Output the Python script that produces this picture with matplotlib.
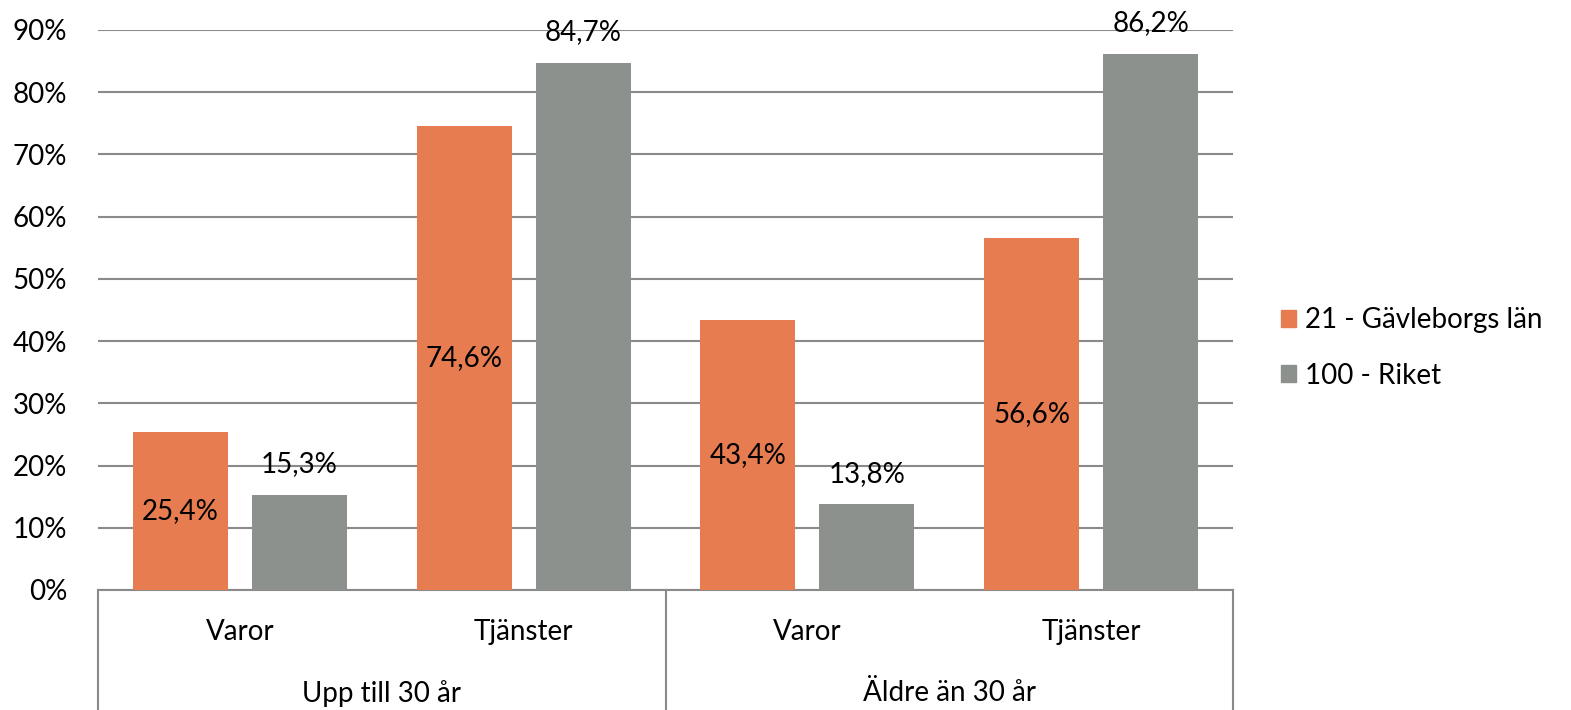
import matplotlib.pyplot as plt
import numpy as np
from matplotlib.patches import Patch

groups = ["Upp till 30 år", "Äldre än 30 år"]
categories = ["Varor", "Tjänster", "Varor", "Tjänster"]
series_names = ["21 - Gävleborgs län", "100 - Riket"]
gavleborg = [25.4, 74.6, 43.4, 56.6]
riket = [15.3, 84.7, 13.8, 86.2]

ORANGE = "#e67c50"
GREY = "#8c918e"
LINE = "#8a8a8a"
FONT = "Lato"
FS = 20

plt.rcParams["font.family"] = [FONT, "DejaVu Sans"]

fig = plt.figure(figsize=(15.71, 7.10), dpi=100)
ax = fig.add_axes([98 / 1571, 120 / 710, 1135 / 1571, 560 / 710])

x = np.arange(len(categories))
width = 0.335
off = 0.21
b1 = ax.bar(x - off, gavleborg, width, color=ORANGE, zorder=3)
b2 = ax.bar(x + off, riket, width, color=GREY, zorder=3)

fmt = lambda v: f"{v:.1f}%".replace(".", ",")
for bar, v in zip(b1, gavleborg):
    ax.text(bar.get_x() + bar.get_width() / 2, v / 2, fmt(v), ha="center", va="center", fontsize=FS)
for bar, v in zip(b2, riket):
    ax.text(bar.get_x() + bar.get_width() / 2, v + 4.9, fmt(v), ha="center", va="center", fontsize=FS)

ax.set_xlim(-0.5, len(categories) - 0.5)
ax.set_ylim(0, 90)
ax.set_yticks(np.arange(0, 91, 10))
ax.set_yticklabels([f"{t}%" for t in range(0, 91, 10)], fontsize=FS)
ax.tick_params(axis="y", length=0, pad=22)
ax.set_xticks([])
ax.grid(axis="y", color=LINE, linewidth=1.5)
ax.set_axisbelow(True)
for side in ["top", "right", "left"]:
    ax.spines[side].set_visible(False)
ax.spines["bottom"].set_color(LINE)
ax.spines["bottom"].set_linewidth(1.5)

trans = ax.get_xaxis_transform()
for xb in [-0.5, 1.5, 3.5]:
    ax.plot([xb, xb], [0, -0.22], transform=trans, color=LINE, linewidth=1.5, clip_on=False)
for xi, cat in zip(x, categories):
    ax.text(xi, -0.075, cat, transform=trans, ha="center", va="center", fontsize=FS)
for gi, g in enumerate(groups):
    ax.text(gi * 2 + 0.5, -0.184, g, transform=trans, ha="center", va="center", fontsize=FS)

handles = [Patch(color=ORANGE), Patch(color=GREY)]
fig.legend(handles, series_names, loc="center left", bbox_to_anchor=(1256 / 1571, 1 - 348 / 710),
           frameon=False, fontsize=FS, handlelength=0.55, handleheight=0.55, handletextpad=0.3,
           labelspacing=1.05)

fig.savefig("out.png", dpi=100)
